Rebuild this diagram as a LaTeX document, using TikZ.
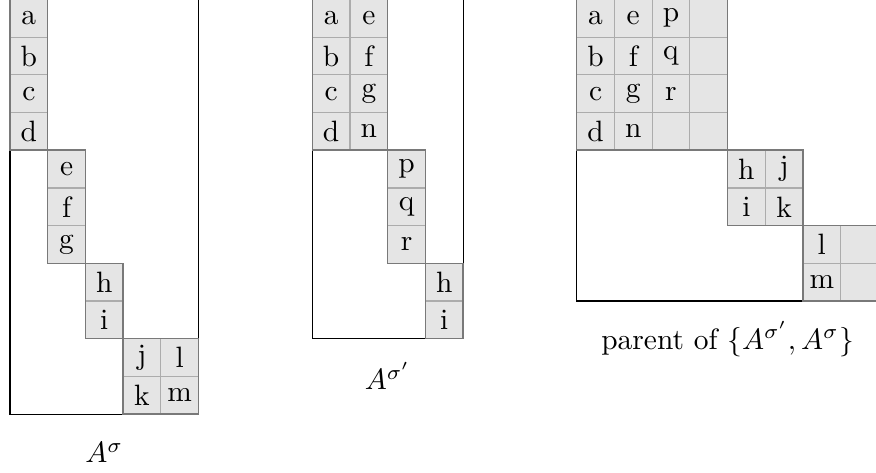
\documentclass[tikz,border=0pt]{standalone}
\begin{document}
\begin{tikzpicture}[x=0.45cm,y=-0.45cm,
  cell/.style={draw=gray!65, fill=gray!20, line width=0.4pt, anchor=north west,
    minimum width=0.45cm, minimum height=0.45cm, inner sep=0pt, outer sep=0pt},
  grp/.style={draw=gray!95!black, line width=0.5pt},
  outer/.style={draw=black, line width=0.4pt},
  lbl/.style={anchor=base, inner sep=0pt}]
\useasboundingbox (0,0) rectangle (23.236,12.52);
\newcommand\mycell[4]{\node[cell] (#1) at (#2,#3) {#4};}
% ---------- left: A^sigma ----------
\def\ox{0.265}\def\oy{-0.015}
\draw[outer] (\ox,\oy) rectangle ++(5,11);
\mycell{La}{\ox}{\oy}{a}
\mycell{Lb}{\ox}{\oy+1}{b}
\mycell{Lc}{\ox}{\oy+2}{c}
\mycell{Ld}{\ox}{\oy+3}{d}
\mycell{Le}{\ox+1}{\oy+4}{e}
\mycell{Lf}{\ox+1}{\oy+5}{f}
\mycell{Lg}{\ox+1}{\oy+6}{g}
\mycell{Lh}{\ox+2}{\oy+7}{h}
\mycell{Li}{\ox+2}{\oy+8}{i}
\mycell{Lj}{\ox+3}{\oy+9}{j}
\mycell{Lk}{\ox+3}{\oy+10}{k}
\mycell{Ll}{\ox+4}{\oy+9}{l}
\mycell{Lm}{\ox+4}{\oy+10}{m}
\draw[grp] (La.north west) rectangle (Ld.south east);
\draw[grp] (Le.north west) rectangle (Lg.south east);
\draw[grp] (Lh.north west) rectangle (Li.south east);
\draw[grp] (Lj.north west) rectangle (Lm.south east);
\node[lbl] (LA) at (\ox+2.5,12.28) {$A^\sigma$};
% ---------- middle: A^sigma' ----------
\def\ox{8.284}
\draw[outer] (\ox,\oy) rectangle ++(4,9);
\mycell{Ma}{\ox}{\oy}{a}
\mycell{Mb}{\ox}{\oy+1}{b}
\mycell{Mc}{\ox}{\oy+2}{c}
\mycell{Md}{\ox}{\oy+3}{d}
\mycell{Me}{\ox+1}{\oy}{e}
\mycell{Mf}{\ox+1}{\oy+1}{f}
\mycell{Mg}{\ox+1}{\oy+2}{g}
\mycell{Mn}{\ox+1}{\oy+3}{n}
\mycell{Mp}{\ox+2}{\oy+4}{p}
\mycell{Mq}{\ox+2}{\oy+5}{q}
\mycell{Mr}{\ox+2}{\oy+6}{r}
\mycell{Mh}{\ox+3}{\oy+7}{h}
\mycell{Mi}{\ox+3}{\oy+8}{i}
\draw[grp] (Ma.north west) rectangle (Mn.south east);
\draw[grp] (Mp.north west) rectangle (Mr.south east);
\draw[grp] (Mh.north west) rectangle (Mi.south east);
\node[lbl] (MA) at (\ox+2,10.34) {$A^{\sigma'}$};
% ---------- right: parent ----------
\def\ox{15.297}
\draw[outer] (\ox,\oy) rectangle ++(8,8);
\mycell{Ra}{\ox}{\oy}{a}
\mycell{Rb}{\ox}{\oy+1}{b}
\mycell{Rc}{\ox}{\oy+2}{c}
\mycell{Rd}{\ox}{\oy+3}{d}
\mycell{Re}{\ox+1}{\oy}{e}
\mycell{Rf}{\ox+1}{\oy+1}{f}
\mycell{Rg}{\ox+1}{\oy+2}{g}
\mycell{Rn}{\ox+1}{\oy+3}{n}
\mycell{Rp}{\ox+2}{\oy}{p}
\mycell{Rq}{\ox+2}{\oy+1}{q}
\mycell{Rr}{\ox+2}{\oy+2}{r}
\mycell{Rx1}{\ox+2}{\oy+3}{}
\mycell{Rx2}{\ox+3}{\oy}{}
\mycell{Rx3}{\ox+3}{\oy+1}{}
\mycell{Rx4}{\ox+3}{\oy+2}{}
\mycell{Rx5}{\ox+3}{\oy+3}{}
\mycell{Rh}{\ox+4}{\oy+4}{h}
\mycell{Ri}{\ox+4}{\oy+5}{i}
\mycell{Rj}{\ox+5}{\oy+4}{j}
\mycell{Rk}{\ox+5}{\oy+5}{k}
\mycell{Rl}{\ox+6}{\oy+6}{l}
\mycell{Rm}{\ox+6}{\oy+7}{m}
\mycell{Rx6}{\ox+7}{\oy+6}{}
\mycell{Rx7}{\ox+7}{\oy+7}{}
\draw[grp] (Ra.north west) rectangle (Rx5.south east);
\draw[grp] (Rh.north west) rectangle (Rk.south east);
\draw[grp] (Rl.north west) rectangle (Rx7.south east);
\node[lbl] (RA) at (\ox+4,9.26) {parent of $\{A^{\sigma'},A^\sigma\}$};
\end{tikzpicture}
\end{document}
